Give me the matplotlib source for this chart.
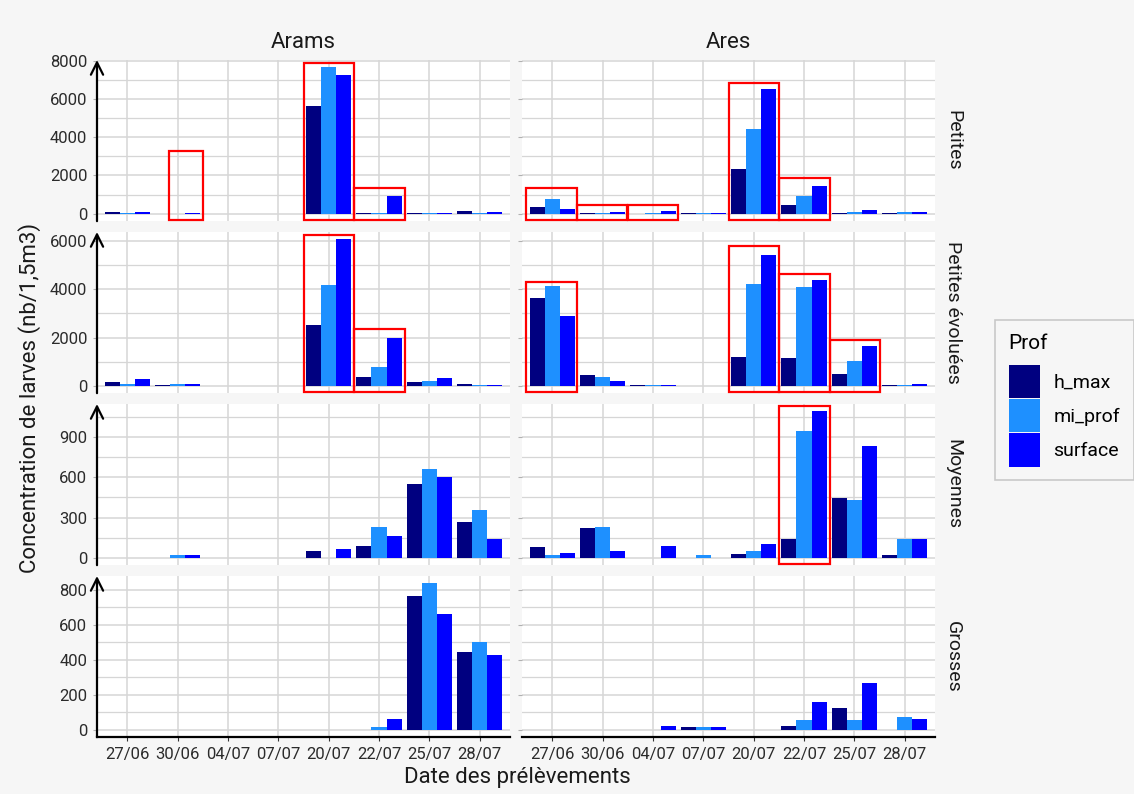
import numpy as np
import matplotlib.pyplot as plt
from matplotlib.patches import Patch, Rectangle
from matplotlib.ticker import MultipleLocator

plt.rcParams['font.family'] = ['Roboto', 'DejaVu Sans']

dates = ['27/06', '30/06', '04/07', '07/07', '20/07', '22/07', '25/07', '28/07']
profs = ['h_max', 'mi_prof', 'surface']
sites = ['Arams', 'Ares']
classes = ['Petites', 'Petites évoluées', 'Moyennes', 'Grosses']

# values per panel, rows in the order of profs
arams_petites = [[70, 0, 0, 0, 5650, 60, 30, 120],
                 [10, 0, 0, 0, 7650, 40, 10, 40],
                 [80, 60, 0, 0, 7250, 920, 50, 100]]
ares_petites = [[350, 10, 0, 30, 2320, 460, 50, 40],
                [790, 20, 20, 60, 4435, 900, 70, 70],
                [265, 110, 140, 30, 6500, 1440, 190, 110]]
arams_evoluees = [[170, 10, 0, 0, 2540, 360, 150, 50],
                  [70, 80, 0, 0, 4185, 770, 195, 15],
                  [290, 80, 0, 0, 6080, 1970, 335, 15]]
ares_evoluees = [[3660, 450, 40, 0, 1200, 1170, 475, 20],
                 [4160, 350, 10, 0, 4215, 4100, 1005, 10],
                 [2890, 195, 40, 0, 5440, 4395, 1630, 70]]
arams_moyennes = [[0, 0, 0, 0, 52, 88, 550, 265],
                  [0, 17, 0, 0, 0, 228, 660, 355],
                  [0, 22, 0, 0, 68, 163, 600, 143]]
ares_moyennes = [[78, 218, 0, 0, 28, 142, 443, 20],
                 [20, 228, 0, 17, 52, 943, 430, 140],
                 [38, 52, 88, 0, 105, 1093, 835, 140]]
arams_grosses = [[0, 0, 0, 0, 0, 0, 767, 446],
                 [0, 0, 0, 0, 0, 17, 838, 500],
                 [0, 0, 0, 0, 0, 59, 662, 427]]
ares_grosses = [[0, 0, 0, 15, 0, 19, 126, 0],
                [0, 0, 0, 15, 0, 54, 54, 73],
                [0, 0, 19, 15, 0, 161, 266, 59]]

panels = [[arams_petites, ares_petites],
          [arams_evoluees, ares_evoluees],
          [arams_moyennes, ares_moyennes],
          [arams_grosses, ares_grosses]]

row_ticks = [2000, 2000, 300, 200]

# red boxes: (row, col, x start, x end, top value)
highlights = [(0, 0, 0.83, 1.50, 3256), (0, 0, 3.51, 4.50, 7870), (0, 0, 4.51, 5.51, 1340),
              (0, 1, -0.52, 0.50, 1355), (0, 1, 0.50, 1.48, 458), (0, 1, 1.51, 2.50, 458),
              (0, 1, 3.50, 4.50, 6830), (0, 1, 4.51, 5.51, 1850),
              (1, 0, 3.51, 4.50, 6264), (1, 0, 4.51, 5.51, 2370),
              (1, 1, -0.52, 0.50, 4325), (1, 1, 3.50, 4.50, 5800), (1, 1, 4.51, 5.51, 4630),
              (1, 1, 5.52, 6.51, 1910),
              (2, 1, 4.50, 5.52, 1130)]

colors = ['#000080', '#1e90ff', '#0000ff']
bg = '#f6f6f6'
W, H = 1134, 794

fig = plt.figure(figsize=(W / 100, H / 100), dpi=100, facecolor=bg)

col_left = [97, 522]
pw, ph = 413, 161
row_top = [60, 232, 404, 576]

x = np.arange(len(dates))
bw = 0.3
axes = {}
for r in range(4):
    ymax = max(max(max(s) for s in panels[r][0]), max(max(s) for s in panels[r][1]))
    for c in range(2):
        ax = fig.add_axes([col_left[c] / W, 1 - (row_top[r] + ph) / H, pw / W, ph / H])
        axes[(r, c)] = ax
        ax.set_facecolor('white')
        data = panels[r][c]
        for k in range(3):
            ax.bar(x + (k - 1) * bw, data[k], width=bw, color=colors[k], linewidth=0, zorder=3)
        ax.set_xlim(-0.6, len(dates) - 0.4)
        ax.set_ylim(-0.05 * ymax, 1.05 * ymax)
        ax.yaxis.set_major_locator(MultipleLocator(row_ticks[r]))
        ax.yaxis.set_minor_locator(MultipleLocator(row_ticks[r] / 2))
        ax.set_xticks(x)
        ax.grid(which='major', axis='both', color='#d6d6d6', lw=1.1, zorder=0)
        ax.grid(which='minor', axis='y', color='#d6d6d6', lw=0.9, zorder=0)
        ax.tick_params(which='minor', length=0)
        ax.tick_params(which='major', length=3, color='#b0b0b0', labelsize=12,
                       labelcolor='#2b2b2b', pad=4)
        for s in ax.spines.values():
            s.set_visible(False)
        if c == 1:
            ax.tick_params(axis='y', labelleft=False)
        else:
            ax.annotate('', xy=(0, 1.0), xytext=(0, -0.001), xycoords='axes fraction',
                        arrowprops=dict(arrowstyle='->', color='black', lw=1.6,
                                        mutation_scale=22, shrinkA=0, shrinkB=0),
                        annotation_clip=False, zorder=5)
        if r == 3:
            ax.spines['bottom'].set_visible(True)
            ax.spines['bottom'].set_linewidth(1.6)
            ax.spines['bottom'].set_color('black')
            ax.set_xticklabels(dates)
            ax.tick_params(axis='x', color='#333333')
        else:
            ax.tick_params(axis='x', labelbottom=False, length=0)

for r, c, x0, x1, top in highlights:
    ax = axes[(r, c)]
    lo = ax.get_ylim()[0] * 0.85
    ax.add_patch(Rectangle((x0, lo), x1 - x0, top - lo, fill=False, edgecolor='red',
                           lw=1.6, zorder=6, clip_on=False))

# strip labels
for c in range(2):
    fig.text((col_left[c] + pw / 2) / W, 1 - 43 / H, sites[c], ha='center', va='center',
             fontsize=16, color='#1a1a1a')
for r in range(4):
    fig.text(953 / W, 1 - (row_top[r] + ph / 2) / H, classes[r], ha='center', va='center',
             rotation=-90, fontsize=14, color='#1a1a1a')

fig.text(517 / W, 1 - 777 / H, 'Date des prélèvements', ha='center', va='center',
         fontsize=16, color='#1a1a1a')
fig.text(30 / W, 1 - 398 / H, 'Concentration de larves (nb/1,5m3)', ha='center',
         va='center', rotation=90, fontsize=16, color='#1a1a1a')

handles = [Patch(facecolor=colors[k], edgecolor='none', label=profs[k]) for k in range(3)]
leg = fig.legend(handles=handles, title='Prof', loc='upper left',
                 bbox_to_anchor=(995 / W, 1 - 320 / H), frameon=True, fancybox=False,
                 edgecolor='#bdbdbd', facecolor=bg, fontsize=14, title_fontsize=15,
                 handlelength=1.6, handleheight=2.25, labelspacing=0.05,
                 alignment='left', borderpad=0.7, handletextpad=0.7, borderaxespad=0)
leg._legend_box.sep = 9  # gap between title and keys
leg.get_frame().set_linewidth(1.2)

fig.savefig('out.png', dpi=100, facecolor=bg)
